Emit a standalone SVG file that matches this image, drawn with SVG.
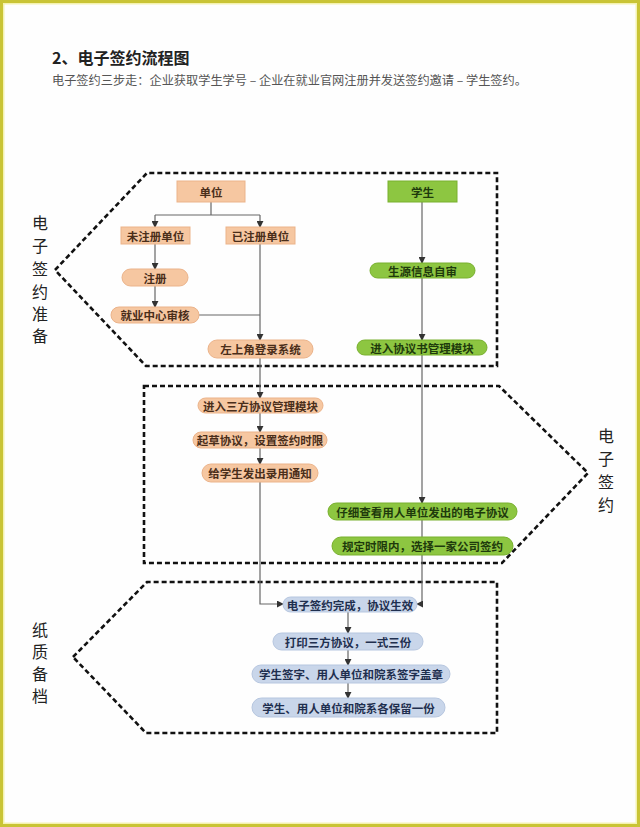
<svg xmlns="http://www.w3.org/2000/svg" width="640" height="827" viewBox="0 0 640 827">
<style>
text{font-family:"Noto Sans CJK SC","Noto Sans",sans-serif}
.t{font-size:11.5px;font-weight:bold;text-anchor:middle;dominant-baseline:central}
.or{fill:#f6c7a1;stroke:#ebb38a;stroke-width:1}
.gr{fill:#8dc641;stroke:#78b02e;stroke-width:1}
.bl{fill:#c9d6ea;stroke:#b6c6df;stroke-width:1}
.to{fill:#4a2e1a}.tg{fill:#1e3a0c}.tb{fill:#1f2f4f}
.dash{fill:none;stroke:#111;stroke-width:2.6;stroke-dasharray:5 3}
.c{fill:none;stroke:#666;stroke-width:1.2}
.side{font-size:16px;fill:#222;text-anchor:middle}
</style>
<defs>
<marker id="ah" viewBox="0 0 8 8" refX="7" refY="4" markerWidth="7" markerHeight="7" markerUnits="userSpaceOnUse" orient="auto">
<path d="M0,0 L8,4 L0,8 Z" fill="#333"/>
</marker>
</defs>
<rect x="0" y="0" width="640" height="827" fill="#fefefe"/>
<rect x="3" y="3" width="634" height="821" fill="none" stroke="#f4f2b0" stroke-width="3"/>
<rect x="1.5" y="1.5" width="637" height="824" fill="none" stroke="#c9c435" stroke-width="3"/>

<g id="title">
<text x="52" y="64" font-size="16" font-weight="bold" fill="#222">2、电子签约流程图</text>
<text x="52" y="85" font-size="12.2" fill="#555">电子签约三步走：企业获取学生学号 – 企业在就业官网注册并发送签约邀请 – 学生签约。</text>
</g>

<g id="sections">
<path class="dash" d="M55,270 L147,173 H497 V366 H146 Z"/>
<path class="dash" d="M144,386 H499 L588,473 L502,563 H144 Z"/>
<path class="dash" d="M73,657 L147,582 H497 V733 H146 Z"/>
<text class="side" x="40" y="229">电</text>
<text class="side" x="40" y="252">子</text>
<text class="side" x="40" y="275">签</text>
<text class="side" x="40" y="298">约</text>
<text class="side" x="40" y="320">准</text>
<text class="side" x="40" y="342">备</text>
<text class="side" x="606" y="442">电</text>
<text class="side" x="606" y="465">子</text>
<text class="side" x="606" y="488">签</text>
<text class="side" x="606" y="511">约</text>
<text class="side" x="40" y="636">纸</text>
<text class="side" x="40" y="658">质</text>
<text class="side" x="40" y="680">备</text>
<text class="side" x="40" y="702">档</text>
</g>

<g id="connectors">
<path class="c" d="M211,202 V215 M155,215 H260"/>
<path class="c" d="M155,215 V227" marker-end="url(#ah)"/>
<path class="c" d="M260,215 V227" marker-end="url(#ah)"/>
<path class="c" d="M155,243 V269" marker-end="url(#ah)"/>
<path class="c" d="M155,286 V307" marker-end="url(#ah)"/>
<path class="c" d="M199,315 H260"/>
<path class="c" d="M260,243 V340" marker-end="url(#ah)"/>
<path class="c" d="M260,358 V398" marker-end="url(#ah)"/>
<path class="c" d="M260,413 V432" marker-end="url(#ah)"/>
<path class="c" d="M260,448 V464" marker-end="url(#ah)"/>
<path class="c" d="M260,482 V604 H283" marker-end="url(#ah)"/>
<path class="c" d="M422,202 V263" marker-end="url(#ah)"/>
<path class="c" d="M422,278 V340" marker-end="url(#ah)"/>
<path class="c" d="M422,355 V503" marker-end="url(#ah)"/>
<path class="c" d="M422,520 V537"/>
<path class="c" d="M422,555 V604 H417" marker-end="url(#ah)"/>
<path class="c" d="M348,612 V633" marker-end="url(#ah)"/>
<path class="c" d="M348,650 V665" marker-end="url(#ah)"/>
<path class="c" d="M348,683 V698" marker-end="url(#ah)"/>
</g>

<g id="n_danwei"><rect class="or" x="177" y="181" width="68" height="21"/><text class="t to" x="211" y="191.5">单位</text></g>
<g id="n_weizhuce"><rect class="or" x="121" y="227" width="69" height="17"/><text class="t to" x="155.5" y="235.5">未注册单位</text></g>
<g id="n_yizhuce"><rect class="or" x="226" y="227" width="69" height="17"/><text class="t to" x="260.5" y="235.5">已注册单位</text></g>
<g id="n_zhuce"><rect class="or" x="122" y="269" width="66" height="17" rx="8.5"/><text class="t to" x="155" y="277.5">注册</text></g>
<g id="n_shenhe"><rect class="or" x="111" y="307" width="88" height="16" rx="8"/><text class="t to" x="155" y="315">就业中心审核</text></g>
<g id="n_denglu"><rect class="or" x="208" y="340" width="105" height="18" rx="9"/><text class="t to" x="260.5" y="349">左上角登录系统</text></g>
<g id="n_sanfang"><rect class="or" x="198" y="398" width="125" height="15" rx="7.5"/><text class="t to" x="260.5" y="405.5">进入三方协议管理模块</text></g>
<g id="n_qicao"><rect class="or" x="193" y="432" width="134" height="16" rx="8"/><text class="t to" x="260" y="440">起草协议，设置签约时限</text></g>
<g id="n_tongzhi"><rect class="or" x="202" y="464" width="116" height="18" rx="9"/><text class="t to" x="260" y="473">给学生发出录用通知</text></g>

<g id="n_xuesheng"><rect class="gr" x="388" y="181" width="69" height="21"/><text class="t tg" x="422.5" y="191.5">学生</text></g>
<g id="n_shengyuan"><rect class="gr" x="370" y="263" width="105" height="15" rx="7.5"/><text class="t tg" x="422.5" y="270.5">生源信息自审</text></g>
<g id="n_xieyishu"><rect class="gr" x="357" y="340" width="130" height="15" rx="7.5"/><text class="t tg" x="422" y="347.5">进入协议书管理模块</text></g>
<g id="n_chakan"><rect class="gr" x="328" y="503" width="189" height="17" rx="8.5"/><text class="t tg" x="422.5" y="511.5">仔细查看用人单位发出的电子协议</text></g>
<g id="n_xuanze"><rect class="gr" x="332" y="537" width="181" height="18" rx="9"/><text class="t tg" x="422.5" y="546">规定时限内，选择一家公司签约</text></g>

<g id="n_wancheng"><rect class="bl" x="283" y="597" width="134" height="15" rx="7.5"/><text class="t tb" x="350" y="604.5">电子签约完成，协议生效</text></g>
<g id="n_dayin"><rect class="bl" x="273" y="633" width="150" height="17" rx="8.5"/><text class="t tb" x="348" y="641.5">打印三方协议，一式三份</text></g>
<g id="n_qianzi"><rect class="bl" x="252" y="665" width="198" height="18" rx="9"/><text class="t tb" x="351" y="674">学生签字、用人单位和院系签字盖章</text></g>
<g id="n_baoliu"><rect class="bl" x="252" y="698" width="193" height="19" rx="9.5"/><text class="t tb" x="348.5" y="707.5">学生、用人单位和院系各保留一份</text></g>
</svg>
